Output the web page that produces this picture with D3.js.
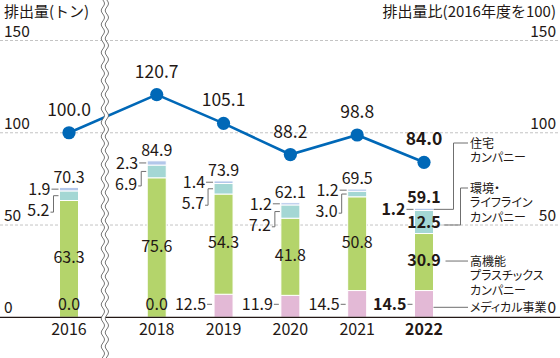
<!DOCTYPE html>
<html>
<head>
<meta charset="utf-8">
<script src="https://cdn.jsdelivr.net/npm/d3@7"></script>
<style>
html,body{margin:0;padding:0;background:#fff;}
svg{display:block;}
text{font-family:"Noto Sans CJK JP","Noto Sans",sans-serif;fill:#231815;}
.leg text{font-feature-settings:"palt" 1;}
</style>
</head>
<body>
<svg id="chart" width="560" height="358"></svg>
<script>
// ---- data ----
const years = ["2016", "2018", "2019", "2020", "2021", "2022"];
const medical = [0.0, 0.0, 12.5, 11.9, 14.5, 14.5];
const plastics = [63.3, 75.6, 54.3, 41.8, 50.8, 30.9];
const envLife = [5.2, 6.9, 5.7, 7.2, 3.0, 12.5];
const housing = [1.9, 2.3, 1.4, 1.2, 1.2, 1.2];
const totals = [70.3, 84.9, 73.9, 62.1, 69.5, 59.1];
const indexValues = [100.0, 120.7, 105.1, 88.2, 98.8, 84.0];
const yTicks = [0, 50, 100, 150];
const seriesKeys = ["medical", "plastics", "envLife", "housing"];
const legendLabels = {
  housing: ["住宅", "カンパニー"],
  envLife: ["環境・", "ライフライン", "カンパニー"],
  plastics: ["高機能", "プラスチックス", "カンパニー"],
  medical: ["メディカル事業"]
};
const leftTitle = "排出量(トン)";
const rightTitle = "排出量比(2016年度を100)";

const colors = {medical: "#e3b9d6", plastics: "#b4d46b", envLife: "#a4d7d4", housing: "#b3c7ea"};
const lineColor = "#0068b7";
const ink = "#231815";

// ---- table ----
const table = years.map((yr, i) => ({year: yr, i, medical: medical[i], plastics: plastics[i], envLife: envLife[i], housing: housing[i], total: totals[i], index: indexValues[i]}));
const stacked = d3.stack().keys(seriesKeys)(table);

const svg = d3.select("#chart");
const W = 560;

// ---- scales ----
const y = d3.scaleLinear().domain([0, 150]).range([317.3, 40.5]);
const breakGap = 0.313;
const slot = i => (i === 0 ? 0 : i + breakGap);
const xs = d3.scaleLinear().domain([0, years.length - 1 + breakGap]).range([69, 424]);
const xc = i => xs(slot(i));
const bw = 19;
const last = years.length - 1;

// ---- gridlines ----
svg.append("g").selectAll("line").data(yTicks.filter(t => t > 0)).join("line")
  .attr("x1", 0).attr("x2", W - 2)
  .attr("y1", d => y(d)).attr("y2", d => y(d))
  .attr("stroke", "#b5b5b5").attr("stroke-width", 0.8).attr("stroke-dasharray", "3,2");

// ---- axis tick labels (left and right) via d3 axes ----
const leftAxis = svg.append("g").attr("transform", "translate(4,0)")
  .call(d3.axisRight(y).tickValues(yTicks).tickSize(0).tickFormat(d3.format("d")));
leftAxis.select(".domain").remove();
leftAxis.selectAll("text").attr("x", 0).attr("dy", null).attr("y", -4.5)
  .attr("text-anchor", "start").style("font-size", "15.5px").style("font-family", null).attr("fill", ink);

const rightAxis = svg.append("g").attr("transform", "translate(556,0)")
  .call(d3.axisLeft(y).tickValues(yTicks).tickSize(0).tickFormat(d3.format("d")));
rightAxis.select(".domain").remove();
rightAxis.selectAll("text").attr("x", 0).attr("dy", null).attr("y", -4.5)
  .attr("text-anchor", "end").style("font-size", "15.5px").style("font-family", null).attr("fill", ink);

// titles
svg.append("text").attr("x", 4).attr("y", 17).style("font-size", "15px").text(leftTitle);
svg.append("text").attr("x", 556).attr("y", 17).attr("text-anchor", "end").style("font-size", "15px").text(rightTitle);

// ---- bars ----
const gBars = svg.append("g");
stacked.forEach(layer => {
  gBars.append("g").selectAll("rect").data(layer).join("rect")
    .attr("x", (d, i) => xc(i) - bw / 2)
    .attr("width", bw)
    .attr("y", d => y(d[1]))
    .attr("height", d => Math.max(0, y(d[0]) - y(d[1])))
    .attr("fill", colors[layer.key])
    .attr("stroke", "#fff").attr("stroke-width", 1);
});

// ---- bar labels ----
const fmt = d3.format(".1f");
const gLab = svg.append("g").style("font-size", "16px");
const connColor = "#6f6f6f";
const stackOf = key => stacked.find(s => s.key === key);

table.forEach((d, i) => {
  const cx = xc(i), left = cx - bw / 2;
  const bold = i === last ? "bold" : "normal";
  const med = stackOf("medical")[i], pla = stackOf("plastics")[i], env = stackOf("envLife")[i], hou = stackOf("housing")[i];

  // medical
  const medBase = y(0) - 7.5;
  if (d.medical === 0) {
    gLab.append("text").attr("x", cx).attr("y", medBase).attr("text-anchor", "middle").attr("font-weight", bold).text(fmt(d.medical));
  } else {
    gLab.append("text").attr("x", left - 8).attr("y", medBase).attr("text-anchor", "end").attr("font-weight", bold).text(fmt(d.medical));
    gLab.append("line").attr("x1", left - 7).attr("x2", left - 2).attr("y1", medBase - 5.5).attr("y2", medBase - 5.5)
      .attr("stroke", connColor).attr("stroke-width", 1);
  }
  // plastics (inside)
  const plaMid = (y(pla[0]) + y(pla[1])) / 2;
  gLab.append("text").attr("x", cx).attr("y", plaMid + 4).attr("text-anchor", "middle").attr("font-weight", bold).text(fmt(d.plastics));

  // housing (left with dash)
  const houMid = (y(hou[0]) + y(hou[1])) / 2;
  gLab.append("text").attr("x", left - 9).attr("y", houMid + 5.8).attr("text-anchor", "end").attr("font-weight", bold).text(fmt(d.housing));
  gLab.append("line").attr("x1", left - 8).attr("x2", left - 1).attr("y1", houMid).attr("y2", houMid)
    .attr("stroke", connColor).attr("stroke-width", 1);

  // env/lifeline
  const envMid = (y(env[0]) + y(env[1])) / 2;
  if (y(env[0]) - y(env[1]) > 16) {
    gLab.append("text").attr("x", cx).attr("y", envMid + 5.8).attr("text-anchor", "middle").attr("font-weight", bold).text(fmt(d.envLife));
  } else {
    const ly = houMid + 21;
    gLab.append("text").attr("x", left - 10).attr("y", ly + 5.8).attr("text-anchor", "end").attr("font-weight", bold).text(fmt(d.envLife));
    gLab.append("path").attr("d", `M${left - 1},${envMid}H${left - 6}V${ly + 2}H${left - 9}`)
      .attr("fill", "none").attr("stroke", connColor).attr("stroke-width", 1);
  }

  // total
  gLab.append("text").attr("x", cx).attr("y", y(d.total) - 5).attr("text-anchor", "middle").attr("font-weight", bold).text(fmt(d.total));
});

// ---- index line ----
const line = d3.line().x(d => xc(d.i)).y(d => y(d.index));
svg.append("path").datum(table).attr("d", line).attr("fill", "none").attr("stroke", lineColor).attr("stroke-width", 2.6);
svg.append("g").selectAll("circle").data(table).join("circle")
  .attr("cx", d => xc(d.i)).attr("cy", d => y(d.index)).attr("r", 6.6).attr("fill", lineColor);
svg.append("g").selectAll("text").data(table).join("text")
  .attr("x", d => xc(d.i)).attr("y", d => y(d.index) - 17)
  .attr("text-anchor", "middle").style("font-size", "17.5px")
  .attr("font-weight", d => d.i === last ? "bold" : "normal")
  .text(d => fmt(d.index));

// ---- baseline ----
svg.append("line").attr("x1", 0).attr("x2", W).attr("y1", y(0)).attr("y2", y(0)).attr("stroke", "#231815").attr("stroke-width", 1.3);

// ---- year labels ----
svg.append("g").selectAll("text").data(table).join("text")
  .attr("x", d => xc(d.i)).attr("y", 334.5).attr("text-anchor", "middle").style("font-size", "16px")
  .attr("font-weight", d => d.i === last ? "bold" : "normal")
  .text(d => d.year);

// ---- right-side series labels for last bar ----
const lastRight = xc(last) + bw / 2;
const legX = 470, lh = 14.5;
const gLeg = svg.append("g").attr("class", "leg").style("font-size", "12px");
function legendText(lines, topY) {
  const t = gLeg.append("text").attr("x", legX).attr("y", topY + 4.5);
  lines.forEach((s, k) => t.append("tspan").attr("x", legX).attr("dy", k === 0 ? 0 : lh).text(s));
}
{
  const hou = stackOf("housing")[last], env = stackOf("envLife")[last], pla = stackOf("plastics")[last];
  const houMid = (y(hou[0]) + y(hou[1])) / 2;
  const envMid = (y(env[0]) + y(env[1])) / 2;
  const plaMid = (y(pla[0]) + y(pla[1])) / 2 - 1;
  const medY = y(0) - 10;
  const housingTop = 143, envTop = 188;
  gLeg.append("path").attr("d", `M${lastRight},${houMid}H${lastRight + 20}V${housingTop}H${legX - 2}`)
    .attr("fill", "none").attr("stroke", connColor).attr("stroke-width", 1);
  legendText(legendLabels.housing, housingTop);
  gLeg.append("path").attr("d", `M${lastRight + 10},${envMid + 3}H${lastRight + 27}V${envTop}H${legX - 2}`)
    .attr("fill", "none").attr("stroke", connColor).attr("stroke-width", 1);
  legendText(legendLabels.envLife, envTop);
  gLeg.append("path").attr("d", `M${lastRight + 12},${plaMid}H${legX - 2}`)
    .attr("fill", "none").attr("stroke", connColor).attr("stroke-width", 1);
  legendText(legendLabels.plastics, plaMid);
  gLeg.append("path").attr("d", `M${lastRight},${medY}H${legX - 2}`)
    .attr("fill", "none").attr("stroke", connColor).attr("stroke-width", 1);
  legendText(legendLabels.medical, medY);
}

// ---- axis break (wavy band) ----
{
  const bx = (xc(0) + xc(1)) / 2 - 10;
  const amp = 1.6, per = 14, gap = 4;
  const pts = d3.range(-4, 364, 1);
  const wx = (yy, off) => bx + off + amp * Math.sin(2 * Math.PI * yy / per);
  const leftPts = pts.map(yy => [wx(yy, 0), yy]);
  const rightPts = pts.map(yy => [wx(yy, gap), yy]);
  const band = leftPts.concat(rightPts.slice().reverse());
  svg.append("path").attr("d", "M" + band.map(p => p.join(",")).join("L") + "Z").attr("fill", "#fff");
  const l = d3.line();
  svg.append("path").attr("d", l(leftPts)).attr("fill", "none").attr("stroke", "#666").attr("stroke-width", 0.9);
  svg.append("path").attr("d", l(rightPts)).attr("fill", "none").attr("stroke", "#666").attr("stroke-width", 0.9);
}
</script>
</body>
</html>
